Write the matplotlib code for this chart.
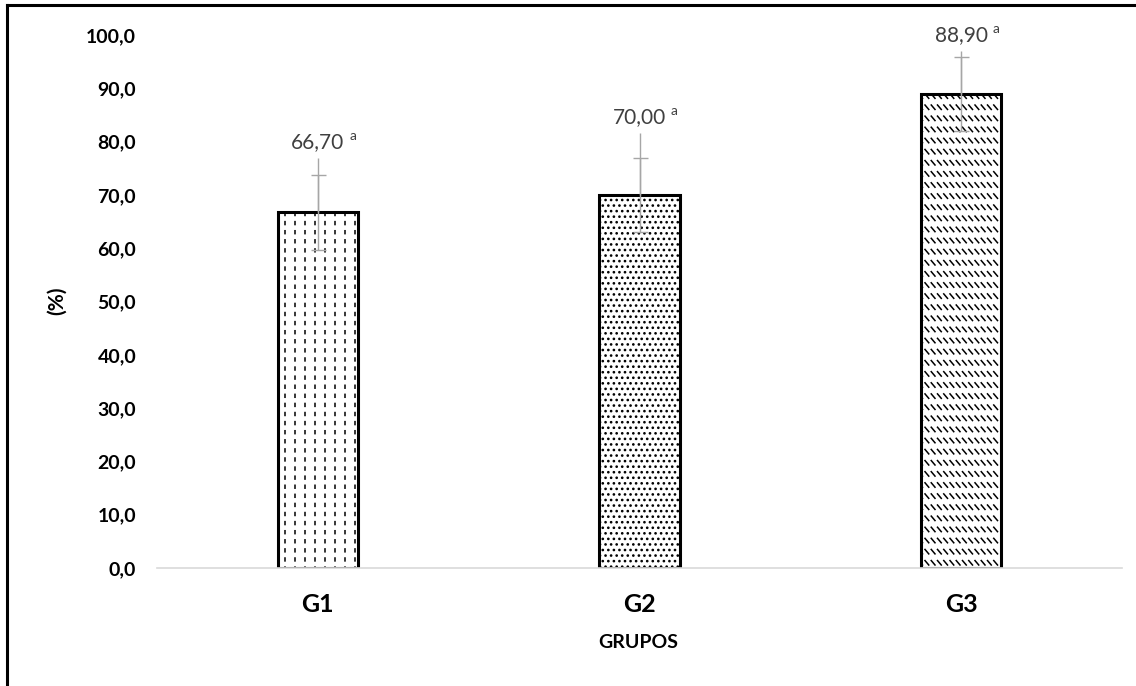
import numpy as np
import matplotlib
matplotlib.use("Agg")
import matplotlib.pyplot as plt
import matplotlib.hatch as mhatch
from matplotlib.path import Path
from matplotlib.lines import Line2D

# -----------------------------
# Data
# -----------------------------
groups = ["G1", "G2", "G3"]
values = [66.70, 70.00, 88.90]
errors = [7.0, 7.0, 7.0]
whisker_tops = [76.9, 81.6, 97.0]
letters = ["a", "a", "a"]
yticks = [0, 10, 20, 30, 40, 50, 60, 70, 80, 90, 100]


# -----------------------------
# Custom hatch textures ("O" = dashed vertical, "o" = short backslashes)
# -----------------------------
class DashedVertical(mhatch.HatchPatternBase):
    def __init__(self, hatch, density):
        k = hatch.count("O")
        self.cols = 10 * k
        self.rows = 11 * k
        self.num_vertices = self.cols * self.rows * 2

    def set_vertices_and_codes(self, vertices, codes):
        cs, rs = 1.0 / self.cols, 1.0 / self.rows
        xs, ys = np.meshgrid(np.arange(self.cols) * cs + cs / 2,
                             np.arange(self.rows) * rs)
        xs, ys = xs.ravel(), ys.ravel()
        vertices[0::2, 0] = xs
        vertices[0::2, 1] = ys + rs * 0.3
        vertices[1::2, 0] = xs
        vertices[1::2, 1] = ys + rs * 0.62
        codes[0::2] = Path.MOVETO
        codes[1::2] = Path.LINETO


class ShortBackslash(mhatch.HatchPatternBase):
    def __init__(self, hatch, density):
        k = hatch.count("o")
        self.rows = 9 * k
        self.cols = 16 * k
        self.num_vertices = self.rows * self.cols * 2

    def set_vertices_and_codes(self, vertices, codes):
        rs, cs = 1.0 / self.rows, 1.0 / self.cols
        xs, ys = np.meshgrid(np.arange(self.cols) * cs, np.arange(self.rows) * rs)
        xs, ys = xs.ravel(), ys.ravel()
        vertices[0::2, 0] = xs
        vertices[0::2, 1] = ys + rs * 0.55
        vertices[1::2, 0] = xs + cs * 0.6
        vertices[1::2, 1] = ys + rs * 0.15
        codes[0::2] = Path.MOVETO
        codes[1::2] = Path.LINETO


mhatch._hatch_types = [t for t in mhatch._hatch_types
                       if t not in (mhatch.SmallCircles, mhatch.LargeCircles)]
mhatch._hatch_types += [DashedVertical, ShortBackslash]

hatches = ["O", "...", "o"]

plt.rcParams["font.family"] = ["Lato", "DejaVu Sans"]
plt.rcParams["hatch.linewidth"] = 1.1

# -----------------------------
# Plot
# -----------------------------
fig = plt.figure(figsize=(11.36, 6.86), dpi=100)
ax = fig.add_axes([0.1382, 0.172, 0.8495, 0.777])

x = np.arange(len(groups))
for i in range(len(groups)):
    ax.bar(x[i], values[i], width=0.25, color="white", edgecolor="black",
           linewidth=2.2, hatch=hatches[i], zorder=2)

# error bars (stem runs a bit above the upper cap, like in the source)
ax.vlines(x, values, whisker_tops, color="#a6a6a6", linewidth=1.0, zorder=3)
ax.errorbar(x, values, yerr=errors, fmt="none", ecolor="#a6a6a6",
            elinewidth=1.0, capsize=5.4, capthick=1.0, zorder=3)

for i in range(len(groups)):
    t = ax.annotate(f"{values[i]:.2f}".replace(".", ","), (x[i], whisker_tops[i]),
                    xytext=(0, 7), textcoords="offset points", ha="center",
                    va="baseline", fontsize=15, color="#404040")
    ax.annotate(letters[i], xy=(1, 0.5), xycoords=t, xytext=(3.5, 0),
                textcoords="offset points", ha="left", va="bottom",
                fontsize=10, color="#404040")

ax.set_xlim(-0.5, 2.5)
ax.set_ylim(0, 100)
ax.set_yticks(yticks)
ax.set_yticklabels([f"{v:.1f}".replace(".", ",") for v in yticks],
                   fontsize=14, fontweight="bold")
ax.set_xticks(x)
ax.set_xticklabels(groups, fontsize=18, fontweight="bold")
ax.tick_params(axis="y", length=0, pad=15)
ax.tick_params(axis="x", length=0, pad=18)

for side in ["top", "right", "left"]:
    ax.spines[side].set_visible(False)
ax.spines["bottom"].set_color("#d9d9d9")
ax.spines["bottom"].set_linewidth(1.2)

fig.text(0.5616, 0.0627, "GRUPOS", ha="center", va="center",
         fontsize=14, fontweight="bold")
fig.text(0.050, 0.562, "(%)", ha="center", va="center", rotation=90,
         fontsize=15, fontweight="bold")

# frame of the original figure (top and left edges only are in view)
fig.add_artist(Line2D([0.0066, 1.0], [0.9927, 0.9927], transform=fig.transFigure,
                      color="black", linewidth=2.2))
fig.add_artist(Line2D([0.0066, 0.0066], [0.0, 0.9927], transform=fig.transFigure,
                      color="black", linewidth=2.2))

fig.savefig("out.png", dpi=100)
plt.close(fig)
